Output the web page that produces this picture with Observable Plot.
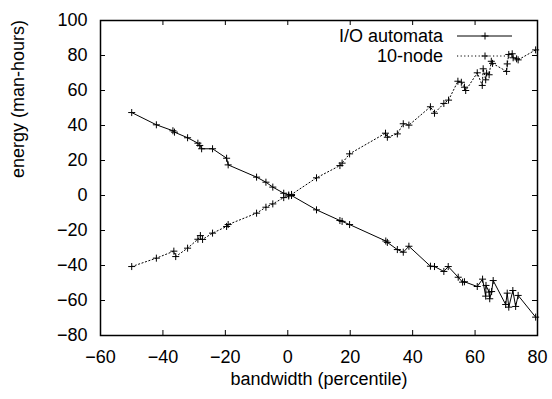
<!DOCTYPE html>
<html><head><meta charset="utf-8">
<script src="https://cdn.jsdelivr.net/npm/d3@7"></script>
<script src="https://cdn.jsdelivr.net/npm/@observablehq/plot@0.6"></script>
<style>body{margin:0;background:#fff}</style>
</head><body><div id="chart"></div>
<script>
const seriesNames = ["I/O automata", "10-node"];
const xTicks = [-60, -40, -20, 0, 20, 40, 60, 80];
const yTicks = [-80, -60, -40, -20, 0, 20, 40, 60, 80, 100];
const xLabel = "bandwidth (percentile)";
const yLabel = "energy (man-hours)";

const ioX = [-50, -42.1, -36.8, -36.3, -32.1, -28.8, -28.2, -27.6, -24.1, -19.6, -19.1, -10, -7, -4.8, -1.3, 0.3, 1.2, 9.2, 16.7, 17.4, 19.8, 31.4, 31.9, 35.1, 37, 38.8, 45.7, 47, 50, 51.4, 54.6, 56, 56.6, 60.7, 62.4, 63.4, 63.5, 64.5, 64.7, 65.3, 65.8, 69.8, 70.3, 70.8, 72.1, 73, 73.8, 79.4];
const ioY = [47.4, 40.4, 37, 36.2, 33, 29.9, 28.6, 26.7, 26.7, 21.3, 17.5, 10.5, 7.6, 4.8, 1.3, 0.3, 0, -8.2, -14.3, -14.8, -16.6, -26, -26.8, -30.9, -32.4, -29, -40.4, -40.6, -43.4, -40.6, -46.7, -49.5, -49.3, -52, -47.8, -57.5, -51.4, -55.2, -59, -54.9, -48.6, -62.3, -55.8, -63.8, -54.3, -63.4, -57.1, -69.5];

const nodeX = [-50, -42.1, -36.5, -35.9, -32.1, -28.8, -28, -27.3, -24.1, -19.6, -19.1, -10, -7, -4.8, -1.3, 0.3, 1.2, 9.2, 16.7, 17.4, 19.8, 31.3, 31.9, 35.1, 37, 38.8, 45.7, 47, 50, 51.5, 54.5, 55.6, 56.6, 57, 60.7, 62.3, 62.6, 63.4, 63.7, 64.5, 65.2, 65.6, 70.1, 70.3, 70.8, 71.9, 72.2, 73.3, 73.8, 79.4];
const nodeY = [-40.6, -35.8, -31.8, -34.9, -30.1, -25, -22.9, -25.1, -21.5, -17.7, -16.6, -10.1, -6.7, -4.8, -1.2, -0.3, 0.6, 10.1, 17.1, 18.5, 23.8, 35.6, 33.3, 35.2, 41, 40.2, 50.7, 47, 52.6, 54.5, 65.3, 64.7, 61.9, 60, 70.1, 62.9, 72.4, 66.1, 69.9, 69, 76.7, 75.5, 70.9, 75.2, 80.6, 81, 78.7, 78.1, 77.5, 83.2];

const io = ioX.map((x, i) => ({x, y: ioY[i]}));
const node = nodeX.map((x, i) => ({x, y: nodeY[i]}));

const W = 552, H = 399;
const mL = 100, mR = 15, mT = 20, mB = 64;
const pw = W - mL - mR, ph = H - mT - mB;
const tick = 5;
const font = "'Liberation Sans', Arial, Helvetica, sans-serif";

const chart = Plot.plot({
  width: W, height: H,
  marginLeft: mL, marginRight: mR, marginTop: mT, marginBottom: mB,
  style: {fontFamily: font, fontSize: "18px", background: "#fff", color: "#000"},
  x: {domain: [-60, 80]},
  y: {domain: [-80, 100]},
  marks: [
    Plot.axisX(xTicks, {tickSize: 0, tickPadding: 15, label: null, fontSize: 18}),
    Plot.axisY(yTicks, {tickSize: 0, tickPadding: 13, label: null, fontSize: 18}),
    Plot.ruleX(xTicks, {x: d => d, insetTop: ph - tick, stroke: "#000"}),
    Plot.ruleX(xTicks, {x: d => d, insetBottom: ph - tick, stroke: "#000"}),
    Plot.ruleY(yTicks, {y: d => d, insetRight: pw - tick, stroke: "#000"}),
    Plot.ruleY(yTicks, {y: d => d, insetLeft: pw - tick, stroke: "#000"}),
    Plot.line(io, {x: "x", y: "y", stroke: "#000", strokeWidth: 1}),
    Plot.dot(io, {x: "x", y: "y", symbol: "plus", r: 2.4, stroke: "#000", strokeWidth: 1}),
    Plot.line(node, {x: "x", y: "y", stroke: "#000", strokeWidth: 1, strokeDasharray: "1.2,2.4"}),
    Plot.dot(node, {x: "x", y: "y", symbol: "plus", r: 2.4, stroke: "#000", strokeWidth: 1}),
    Plot.frame({stroke: "#000", strokeWidth: 1.5}),
    Plot.text([xLabel], {text: d => d, frameAnchor: "bottom", dy: 49, fontSize: 18}),
    Plot.text([yLabel], {text: d => d, frameAnchor: "left", dx: -82, rotate: -90, fontSize: 18})
  ]
});

// legend (inside plot, top right, gnuplot style)
const svg = d3.select(chart);
const lg = svg.append("g").attr("font-family", font).attr("font-size", 18);
const styles = [{dash: null}, {dash: "1.2,2.4"}];
seriesNames.forEach((name, i) => {
  const cy = 36 + i * 20;
  lg.append("text").attr("x", 443).attr("y", cy).attr("dy", "0.35em")
    .attr("text-anchor", "end").attr("fill", "#000").text(name);
  lg.append("line").attr("x1", 457).attr("x2", 512).attr("y1", cy).attr("y2", cy)
    .attr("stroke", "#000").attr("stroke-dasharray", styles[i].dash);
  lg.append("path").attr("d", `M481.5,${cy}h7M485,${cy - 3.5}v7`).attr("stroke", "#000");
});

document.getElementById("chart").appendChild(chart);
</script>
</body></html>
